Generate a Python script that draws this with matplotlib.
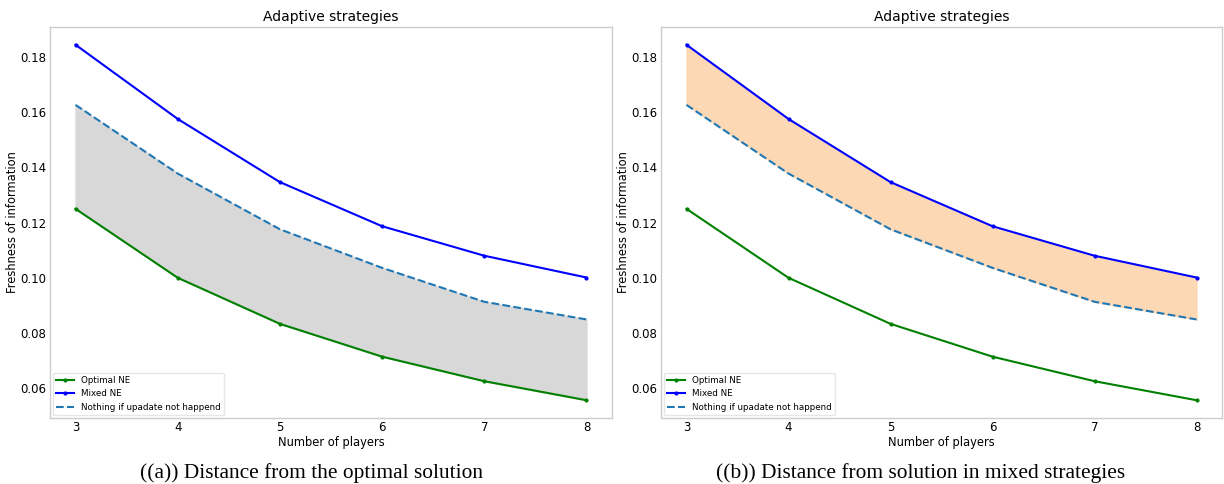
import matplotlib
matplotlib.use("Agg")
import matplotlib.pyplot as plt

players = [3, 4, 5, 6, 7, 8]
optimal_ne = [0.125, 0.100, 0.0833, 0.0714, 0.0625, 0.0556]
mixed_ne = [0.1845, 0.1576, 0.1347, 0.1187, 0.1080, 0.1001]
nothing = [0.1627, 0.1378, 0.1176, 0.1036, 0.0913, 0.0849]

titles = ["Adaptive strategies", "Adaptive strategies"]
captions = ["((a)) Distance from the optimal solution",
            "((b)) Distance from solution in mixed strategies"]
xlabel = "Number of players"
ylabel = "Freshness of information"
legend_labels = ["Optimal NE", "Mixed NE", "Nothing if upadate not happend"]

plt.rcParams['font.family'] = ['DejaVu Sans']

fig = plt.figure(figsize=(12.24, 4.84), dpi=100)
axes_rects = [[50/1224, 66/484, 562/1224, 391/484],
              [661/1224, 66/484, 561/1224, 391/484]]
caption_x = [311/1224, 921/1224]

for i, rect in enumerate(axes_rects):
    ax = fig.add_axes(rect)
    l1, = ax.plot(players, optimal_ne, color='green', marker='.', markersize=4, lw=1.5)
    l2, = ax.plot(players, mixed_ne, color='blue', marker='.', markersize=4, lw=1.5)
    l3, = ax.plot(players, nothing, color='#1f77b4', ls='--', lw=1.5)
    if i == 0:
        ax.fill_between(players, optimal_ne, nothing, color='#d8d8d8', zorder=0)
    else:
        ax.fill_between(players, nothing, mixed_ne, color='#fdd8b5', zorder=0)
    ax.set_title(titles[i], fontsize=10, pad=4)
    ax.set_xlabel(xlabel, fontsize=8.3, labelpad=1)
    ax.set_ylabel(ylabel, fontsize=8.3, labelpad=1)
    ax.set_xticks(players)
    ax.set_yticks([0.06, 0.08, 0.10, 0.12, 0.14, 0.16, 0.18])
    ax.set_yticklabels(["0.06", "0.08", "0.10", "0.12", "0.14", "0.16", "0.18"])
    ax.tick_params(length=0, labelsize=8.5, pad=2.5)
    for s in ax.spines.values():
        s.set_color('#cccccc')
        s.set_linewidth(1.0)
    ax.legend([l1, l2, l3], legend_labels, loc='lower left', fontsize=6.3,
              frameon=True, framealpha=0.8, edgecolor='#e0e0e0', borderaxespad=0.3)
    fig.text(caption_x[i], 1 - 473/484, captions[i], ha='center', va='center',
             fontsize=15.4, family='Liberation Serif')

fig.savefig("out.png", dpi=100)
